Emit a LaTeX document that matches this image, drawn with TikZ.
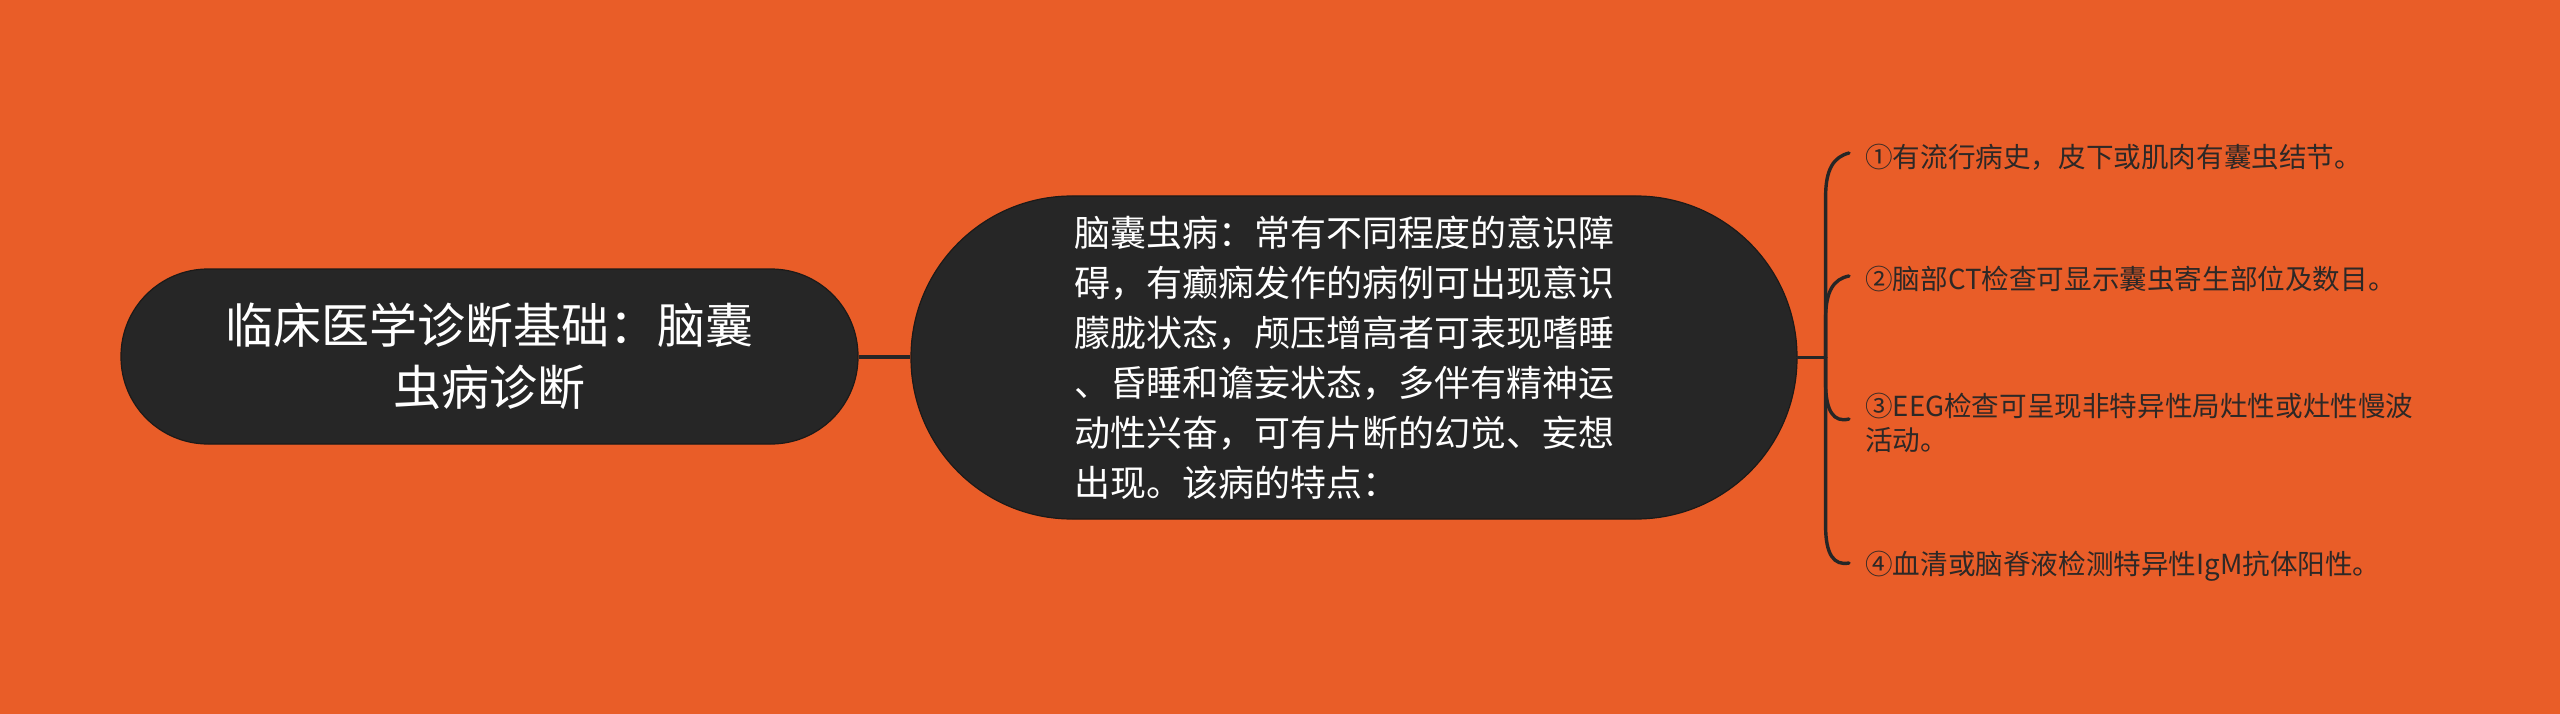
\documentclass[tikz,border=0pt]{standalone}
\usepackage{fontspec}
\setmainfont{Noto Sans CJK SC}
\usetikzlibrary{calc}
\definecolor{bg}{RGB}{233,93,40}
\definecolor{nodefill}{RGB}{38,38,38}
\definecolor{nodeedge}{RGB}{28,26,25}
\definecolor{leaftext}{RGB}{45,40,38}
\begin{document}
\begin{tikzpicture}[x=1pt,y=-1pt,
  topic/.style={fill=nodefill, draw=nodeedge, line width=1.2pt, text=white, inner sep=0pt},
  conn/.style={draw=nodefill, line width=4pt},
  branch/.style={draw=nodefill, line width=3.4pt, line cap=round},
  leaf/.style={anchor=west, inner sep=0pt, text=leaftext, align=left, font=\fontsize{27.6}{34}\selectfont}]
\fill[bg] (0,0) rectangle (2560,714);
\useasboundingbox (0,0) rectangle (2560,714);
\node[topic, minimum width=737pt, minimum height=175pt, rounded corners=87pt, align=center,
      font=\fontsize{48}{62}\selectfont] (root) at (489.5,356.5) {临床医学诊断基础：脑囊\\虫病诊断};
\node[topic, minimum width=886pt, minimum height=323pt, rounded corners=161pt,
      font=\fontsize{36}{50}\selectfont] (mid) at (1354,357.5)
  {\hspace*{-14pt}\parbox{545pt}{\raggedright 脑囊虫病：常有不同程度的意识障\\碍，有癫痫发作的病例可出现意识\\朦胧状态，颅压增高者可表现嗜睡\\、昏睡和谵妄状态，多伴有精神运\\动性兴奋，可有片断的幻觉、妄想\\出现。该病的特点：}};
\draw[conn] (root.east) -- (root.east -| mid.west);
\coordinate (J) at ($(mid.east)+(28,0)$);
\draw[branch] (mid.east) -- (J);
\node[leaf] (l1) at (1865,157) {①有流行病史，皮下或肌肉有囊虫结节。};
\node[leaf] (l2) at (1865,279) {②脑部CT检查可显示囊虫寄生部位及数目。};
\node[leaf] (l3) at (1865,423) {③EEG检查可呈现非特异性局灶性或灶性慢波\\活动。};
\node[leaf] (l4) at (1865,566) {④血清或脑脊液检测特异性IgM抗体阳性。};
\draw[branch] (J) -- ($(J |- l1.west)+(0,40)$) .. controls ($(J |- l1.west)+(0,12)$) and ($(J |- l1.west)+(8,0)$) .. ($(l1.west)+(-16,-4)$);
\draw[branch] (J) -- ($(J |- l2.west)+(0,40)$) .. controls ($(J |- l2.west)+(0,12)$) and ($(J |- l2.west)+(8,0)$) .. ($(l2.west)+(-16,-3)$);
\draw[branch] (J) -- ($(J |- l3.west)+(0,-40)$) .. controls ($(J |- l3.west)+(0,-12)$) and ($(J |- l3.west)+(8,0)$) .. ($(l3.west)+(-16,-4)$);
\draw[branch] (J) -- ($(J |- l4.west)+(0,-40)$) .. controls ($(J |- l4.west)+(0,-12)$) and ($(J |- l4.west)+(8,0)$) .. ($(l4.west)+(-16,-3)$);
\end{tikzpicture}
\end{document}
